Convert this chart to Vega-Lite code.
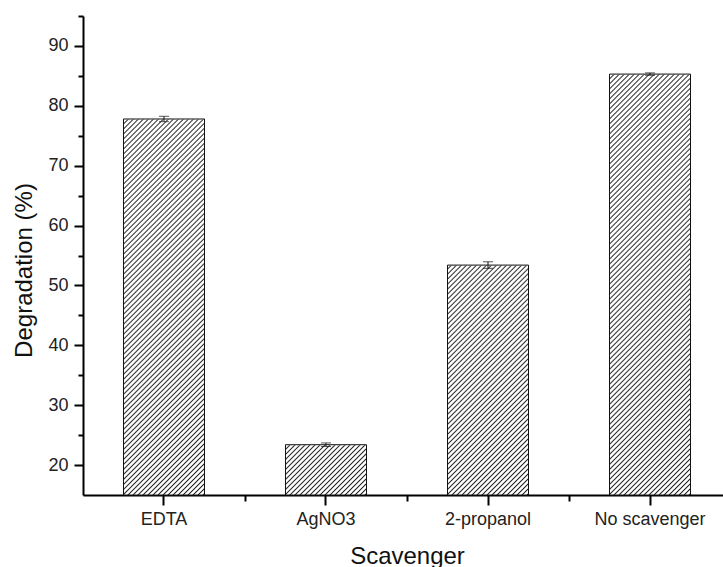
{
  "$schema": "https://vega.github.io/schema/vega-lite/v6.json",
  "width": 640,
  "height": 479,
  "autosize": {"type": "none"},
  "padding": {"left": 83, "top": 16, "right": 0, "bottom": 72},
  "background": "white",
  "config": {
    "font": "Liberation Sans",
    "view": {"stroke": null},
    "axis": {"grid": false, "domainColor": "#000", "tickColor": "#000", "domainWidth": 2, "tickWidth": 2, "labelColor": "#222", "titleColor": "#111", "titleFontWeight": "normal"}
  },
  "data": {
    "values": [
      {"Scavenger": "EDTA", "Degradation": 77.8, "Err": 0.45},
      {"Scavenger": "AgNO3", "Degradation": 23.4, "Err": 0.3},
      {"Scavenger": "2-propanol", "Degradation": 53.4, "Err": 0.55},
      {"Scavenger": "No scavenger", "Degradation": 85.3, "Err": 0.2}
    ]
  },
  "resolve": {"axis": {"x": "independent", "y": "independent"}},
  "layer": [
    {
      "mark": {
        "type": "bar",
        "fill": {
          "gradient": "linear", "x1": 0.82817, "y1": -0.0161, "x2": 1, "y2": 1,
          "stops": [
{"offset":0,"color":"#fff"},{"offset":0.0045,"color":"#fff"},{"offset":0.007,"color":"#222"},
{"offset":0.01,"color":"#fff"},{"offset":0.0145,"color":"#fff"},{"offset":0.017,"color":"#222"},
{"offset":0.02,"color":"#fff"},{"offset":0.0245,"color":"#fff"},{"offset":0.027,"color":"#222"},
{"offset":0.03,"color":"#fff"},{"offset":0.0345,"color":"#fff"},{"offset":0.037,"color":"#222"},
{"offset":0.04,"color":"#fff"},{"offset":0.0445,"color":"#fff"},{"offset":0.047,"color":"#222"},
{"offset":0.05,"color":"#fff"},{"offset":0.0545,"color":"#fff"},{"offset":0.057,"color":"#222"},
{"offset":0.06,"color":"#fff"},{"offset":0.0645,"color":"#fff"},{"offset":0.067,"color":"#222"},
{"offset":0.07,"color":"#fff"},{"offset":0.0745,"color":"#fff"},{"offset":0.077,"color":"#222"},
{"offset":0.08,"color":"#fff"},{"offset":0.0845,"color":"#fff"},{"offset":0.087,"color":"#222"},
{"offset":0.09,"color":"#fff"},{"offset":0.0945,"color":"#fff"},{"offset":0.097,"color":"#222"},
{"offset":0.10,"color":"#fff"},{"offset":0.1045,"color":"#fff"},{"offset":0.107,"color":"#222"},
{"offset":0.11,"color":"#fff"},{"offset":0.1145,"color":"#fff"},{"offset":0.117,"color":"#222"},
{"offset":0.12,"color":"#fff"},{"offset":0.1245,"color":"#fff"},{"offset":0.127,"color":"#222"},
{"offset":0.13,"color":"#fff"},{"offset":0.1345,"color":"#fff"},{"offset":0.137,"color":"#222"},
{"offset":0.14,"color":"#fff"},{"offset":0.1445,"color":"#fff"},{"offset":0.147,"color":"#222"},
{"offset":0.15,"color":"#fff"},{"offset":0.1545,"color":"#fff"},{"offset":0.157,"color":"#222"},
{"offset":0.16,"color":"#fff"},{"offset":0.1645,"color":"#fff"},{"offset":0.167,"color":"#222"},
{"offset":0.17,"color":"#fff"},{"offset":0.1745,"color":"#fff"},{"offset":0.177,"color":"#222"},
{"offset":0.18,"color":"#fff"},{"offset":0.1845,"color":"#fff"},{"offset":0.187,"color":"#222"},
{"offset":0.19,"color":"#fff"},{"offset":0.1945,"color":"#fff"},{"offset":0.197,"color":"#222"},
{"offset":0.20,"color":"#fff"},{"offset":0.2045,"color":"#fff"},{"offset":0.207,"color":"#222"},
{"offset":0.21,"color":"#fff"},{"offset":0.2145,"color":"#fff"},{"offset":0.217,"color":"#222"},
{"offset":0.22,"color":"#fff"},{"offset":0.2245,"color":"#fff"},{"offset":0.227,"color":"#222"},
{"offset":0.23,"color":"#fff"},{"offset":0.2345,"color":"#fff"},{"offset":0.237,"color":"#222"},
{"offset":0.24,"color":"#fff"},{"offset":0.2445,"color":"#fff"},{"offset":0.247,"color":"#222"},
{"offset":0.25,"color":"#fff"},{"offset":0.2545,"color":"#fff"},{"offset":0.257,"color":"#222"},
{"offset":0.26,"color":"#fff"},{"offset":0.2645,"color":"#fff"},{"offset":0.267,"color":"#222"},
{"offset":0.27,"color":"#fff"},{"offset":0.2745,"color":"#fff"},{"offset":0.277,"color":"#222"},
{"offset":0.28,"color":"#fff"},{"offset":0.2845,"color":"#fff"},{"offset":0.287,"color":"#222"},
{"offset":0.29,"color":"#fff"},{"offset":0.2945,"color":"#fff"},{"offset":0.297,"color":"#222"},
{"offset":0.30,"color":"#fff"},{"offset":0.3045,"color":"#fff"},{"offset":0.307,"color":"#222"},
{"offset":0.31,"color":"#fff"},{"offset":0.3145,"color":"#fff"},{"offset":0.317,"color":"#222"},
{"offset":0.32,"color":"#fff"},{"offset":0.3245,"color":"#fff"},{"offset":0.327,"color":"#222"},
{"offset":0.33,"color":"#fff"},{"offset":0.3345,"color":"#fff"},{"offset":0.337,"color":"#222"},
{"offset":0.34,"color":"#fff"},{"offset":0.3445,"color":"#fff"},{"offset":0.347,"color":"#222"},
{"offset":0.35,"color":"#fff"},{"offset":0.3545,"color":"#fff"},{"offset":0.357,"color":"#222"},
{"offset":0.36,"color":"#fff"},{"offset":0.3645,"color":"#fff"},{"offset":0.367,"color":"#222"},
{"offset":0.37,"color":"#fff"},{"offset":0.3745,"color":"#fff"},{"offset":0.377,"color":"#222"},
{"offset":0.38,"color":"#fff"},{"offset":0.3845,"color":"#fff"},{"offset":0.387,"color":"#222"},
{"offset":0.39,"color":"#fff"},{"offset":0.3945,"color":"#fff"},{"offset":0.397,"color":"#222"},
{"offset":0.40,"color":"#fff"},{"offset":0.4045,"color":"#fff"},{"offset":0.407,"color":"#222"},
{"offset":0.41,"color":"#fff"},{"offset":0.4145,"color":"#fff"},{"offset":0.417,"color":"#222"},
{"offset":0.42,"color":"#fff"},{"offset":0.4245,"color":"#fff"},{"offset":0.427,"color":"#222"},
{"offset":0.43,"color":"#fff"},{"offset":0.4345,"color":"#fff"},{"offset":0.437,"color":"#222"},
{"offset":0.44,"color":"#fff"},{"offset":0.4445,"color":"#fff"},{"offset":0.447,"color":"#222"},
{"offset":0.45,"color":"#fff"},{"offset":0.4545,"color":"#fff"},{"offset":0.457,"color":"#222"},
{"offset":0.46,"color":"#fff"},{"offset":0.4645,"color":"#fff"},{"offset":0.467,"color":"#222"},
{"offset":0.47,"color":"#fff"},{"offset":0.4745,"color":"#fff"},{"offset":0.477,"color":"#222"},
{"offset":0.48,"color":"#fff"},{"offset":0.4845,"color":"#fff"},{"offset":0.487,"color":"#222"},
{"offset":0.49,"color":"#fff"},{"offset":0.4945,"color":"#fff"},{"offset":0.497,"color":"#222"},
{"offset":0.50,"color":"#fff"},{"offset":0.5045,"color":"#fff"},{"offset":0.507,"color":"#222"},
{"offset":0.51,"color":"#fff"},{"offset":0.5145,"color":"#fff"},{"offset":0.517,"color":"#222"},
{"offset":0.52,"color":"#fff"},{"offset":0.5245,"color":"#fff"},{"offset":0.527,"color":"#222"},
{"offset":0.53,"color":"#fff"},{"offset":0.5345,"color":"#fff"},{"offset":0.537,"color":"#222"},
{"offset":0.54,"color":"#fff"},{"offset":0.5445,"color":"#fff"},{"offset":0.547,"color":"#222"},
{"offset":0.55,"color":"#fff"},{"offset":0.5545,"color":"#fff"},{"offset":0.557,"color":"#222"},
{"offset":0.56,"color":"#fff"},{"offset":0.5645,"color":"#fff"},{"offset":0.567,"color":"#222"},
{"offset":0.57,"color":"#fff"},{"offset":0.5745,"color":"#fff"},{"offset":0.577,"color":"#222"},
{"offset":0.58,"color":"#fff"},{"offset":0.5845,"color":"#fff"},{"offset":0.587,"color":"#222"},
{"offset":0.59,"color":"#fff"},{"offset":0.5945,"color":"#fff"},{"offset":0.597,"color":"#222"},
{"offset":0.60,"color":"#fff"},{"offset":0.6045,"color":"#fff"},{"offset":0.607,"color":"#222"},
{"offset":0.61,"color":"#fff"},{"offset":0.6145,"color":"#fff"},{"offset":0.617,"color":"#222"},
{"offset":0.62,"color":"#fff"},{"offset":0.6245,"color":"#fff"},{"offset":0.627,"color":"#222"},
{"offset":0.63,"color":"#fff"},{"offset":0.6345,"color":"#fff"},{"offset":0.637,"color":"#222"},
{"offset":0.64,"color":"#fff"},{"offset":0.6445,"color":"#fff"},{"offset":0.647,"color":"#222"},
{"offset":0.65,"color":"#fff"},{"offset":0.6545,"color":"#fff"},{"offset":0.657,"color":"#222"},
{"offset":0.66,"color":"#fff"},{"offset":0.6645,"color":"#fff"},{"offset":0.667,"color":"#222"},
{"offset":0.67,"color":"#fff"},{"offset":0.6745,"color":"#fff"},{"offset":0.677,"color":"#222"},
{"offset":0.68,"color":"#fff"},{"offset":0.6845,"color":"#fff"},{"offset":0.687,"color":"#222"},
{"offset":0.69,"color":"#fff"},{"offset":0.6945,"color":"#fff"},{"offset":0.697,"color":"#222"},
{"offset":0.70,"color":"#fff"},{"offset":0.7045,"color":"#fff"},{"offset":0.707,"color":"#222"},
{"offset":0.71,"color":"#fff"},{"offset":0.7145,"color":"#fff"},{"offset":0.717,"color":"#222"},
{"offset":0.72,"color":"#fff"},{"offset":0.7245,"color":"#fff"},{"offset":0.727,"color":"#222"},
{"offset":0.73,"color":"#fff"},{"offset":0.7345,"color":"#fff"},{"offset":0.737,"color":"#222"},
{"offset":0.74,"color":"#fff"},{"offset":0.7445,"color":"#fff"},{"offset":0.747,"color":"#222"},
{"offset":0.75,"color":"#fff"},{"offset":0.7545,"color":"#fff"},{"offset":0.757,"color":"#222"},
{"offset":0.76,"color":"#fff"},{"offset":0.7645,"color":"#fff"},{"offset":0.767,"color":"#222"},
{"offset":0.77,"color":"#fff"},{"offset":0.7745,"color":"#fff"},{"offset":0.777,"color":"#222"},
{"offset":0.78,"color":"#fff"},{"offset":0.7845,"color":"#fff"},{"offset":0.787,"color":"#222"},
{"offset":0.79,"color":"#fff"},{"offset":0.7945,"color":"#fff"},{"offset":0.797,"color":"#222"},
{"offset":0.80,"color":"#fff"},{"offset":0.8045,"color":"#fff"},{"offset":0.807,"color":"#222"},
{"offset":0.81,"color":"#fff"},{"offset":0.8145,"color":"#fff"},{"offset":0.817,"color":"#222"},
{"offset":0.82,"color":"#fff"},{"offset":0.8245,"color":"#fff"},{"offset":0.827,"color":"#222"},
{"offset":0.83,"color":"#fff"},{"offset":0.8345,"color":"#fff"},{"offset":0.837,"color":"#222"},
{"offset":0.84,"color":"#fff"},{"offset":0.8445,"color":"#fff"},{"offset":0.847,"color":"#222"},
{"offset":0.85,"color":"#fff"},{"offset":0.8545,"color":"#fff"},{"offset":0.857,"color":"#222"},
{"offset":0.86,"color":"#fff"},{"offset":0.8645,"color":"#fff"},{"offset":0.867,"color":"#222"},
{"offset":0.87,"color":"#fff"},{"offset":0.8745,"color":"#fff"},{"offset":0.877,"color":"#222"},
{"offset":0.88,"color":"#fff"},{"offset":0.8845,"color":"#fff"},{"offset":0.887,"color":"#222"},
{"offset":0.89,"color":"#fff"},{"offset":0.8945,"color":"#fff"},{"offset":0.897,"color":"#222"},
{"offset":0.90,"color":"#fff"},{"offset":0.9045,"color":"#fff"},{"offset":0.907,"color":"#222"},
{"offset":0.91,"color":"#fff"},{"offset":0.9145,"color":"#fff"},{"offset":0.917,"color":"#222"},
{"offset":0.92,"color":"#fff"},{"offset":0.9245,"color":"#fff"},{"offset":0.927,"color":"#222"},
{"offset":0.93,"color":"#fff"},{"offset":0.9345,"color":"#fff"},{"offset":0.937,"color":"#222"},
{"offset":0.94,"color":"#fff"},{"offset":0.9445,"color":"#fff"},{"offset":0.947,"color":"#222"},
{"offset":0.95,"color":"#fff"},{"offset":0.9545,"color":"#fff"},{"offset":0.957,"color":"#222"},
{"offset":0.96,"color":"#fff"},{"offset":0.9645,"color":"#fff"},{"offset":0.967,"color":"#222"},
{"offset":0.97,"color":"#fff"},{"offset":0.9745,"color":"#fff"},{"offset":0.977,"color":"#222"},
{"offset":0.98,"color":"#fff"},{"offset":0.9845,"color":"#fff"},{"offset":0.987,"color":"#222"},
{"offset":0.99,"color":"#fff"},{"offset":0.9945,"color":"#fff"},{"offset":0.997,"color":"#222"},
{"offset":1,"color":"#fff"}
          ]
        }
      },
      "encoding": {
        "x": {
          "field": "Scavenger", "type": "nominal", "sort": null,
          "scale": {"paddingInner": 0.5, "paddingOuter": 0.2253, "align": 0.5548},
          "axis": {"orient": "bottom", "title": "Scavenger", "labelAngle": 0, "labelFontSize": 18, "labelPadding": 5, "tickSize": 10, "titleFontSize": 24, "titlePadding": 16, "titleX": 324}
        },
        "y": {
          "datum": 95, "type": "quantitative",
          "scale": {"domain": [15, 95], "zero": false, "nice": false},
          "axis": {"orient": "left", "title": "Degradation (%)", "values": [20, 30, 40, 50, 60, 70, 80, 90], "labelFontSize": 18, "labelPadding": 6, "tickSize": 9, "titleFontSize": 24, "titlePadding": 11, "titleY": 254}
        },
        "y2": {"datum": 15}
      }
    },
    {
      "mark": {"type": "bar", "fill": "white", "stroke": "white", "strokeWidth": 1},
      "encoding": {
        "x": {"field": "Scavenger", "type": "nominal", "sort": null, "axis": null},
        "y": {"field": "Degradation", "type": "quantitative", "axis": null},
        "y2": {"datum": 95}
      }
    },
    {
      "mark": {"type": "bar", "fill": null, "fillOpacity": 0, "stroke": "#111", "strokeWidth": 1},
      "encoding": {
        "x": {
          "field": "Scavenger", "type": "nominal", "sort": null,
          "axis": {"orient": "bottom", "title": null, "labels": false, "domain": false, "tickOffset": 81, "tickSize": 6}
        },
        "y": {
          "field": "Degradation", "type": "quantitative",
          "axis": {"orient": "left", "title": null, "labels": false, "domain": false, "values": [25, 35, 45, 55, 65, 75, 85, 95], "tickSize": 5}
        },
        "y2": {"datum": 15}
      }
    },
    {
      "mark": {"type": "errorbar", "color": "#111", "thickness": 1, "ticks": {"size": 10, "thickness": 1, "color": "#111"}},
      "encoding": {
        "x": {"field": "Scavenger", "type": "nominal", "sort": null, "axis": null},
        "y": {"field": "Degradation", "type": "quantitative", "axis": null},
        "yError": {"field": "Err"}
      }
    }
  ]
}
